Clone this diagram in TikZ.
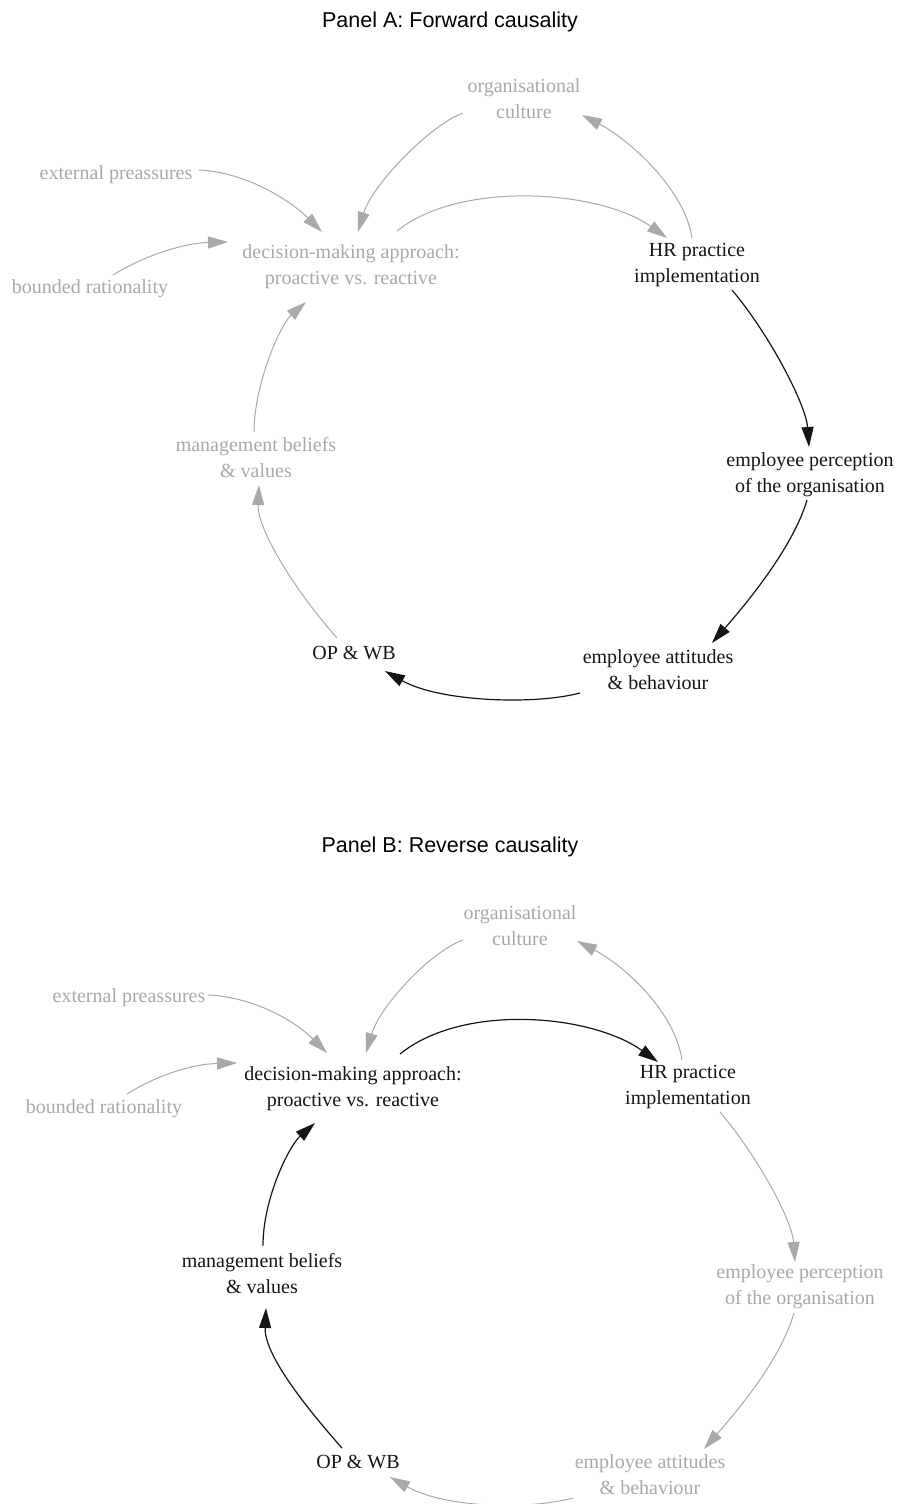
\documentclass[tikz,border=0pt]{standalone}
\usepackage{fontspec}
\setmainfont{Liberation Serif}
\newfontfamily\titlefont{Liberation Sans}
\usetikzlibrary{arrows.meta}
\definecolor{dim}{HTML}{A9A9A9}
\definecolor{ink}{HTML}{151515}

\begin{document}
\begin{tikzpicture}[x=1pt,y=-1pt,
  lbl/.style={align=center, inner sep=0pt, font=\fontsize{20}{26}\selectfont},
  on/.style={lbl, text=ink},
  off/.style={lbl, text=dim},
  ttl/.style={inner sep=0pt, font=\titlefont\fontsize{21.5}{26}\selectfont, text=black},
  tip/.style={-{Triangle[length=20pt,width=12pt]}},
  onedge/.style={draw=ink, line width=1.2pt, tip},
  offedge/.style={draw=dim, line width=1pt, tip},
]
\fill[white] (0,0) rectangle (901,1504);
\useasboundingbox (0,0) rectangle (901,1504);

% ---------- Panel A ----------
\node[ttl] (aTitle) at (450,22) {Panel A: Forward causality};
\node[off] (aOrg)  at (524,99)    {organisational\\culture};
\node[off] (aExt)  at (116,175)   {external preassures};
\node[off] (aDec)  at (351,266.5) {decision-making approach:\\proactive vs. reactive};
\node[off] (aBnd)  at (90,289)    {bounded rationality};
\node[on]  (aHR)   at (697,265)   {HR practice\\implementation};
\node[on]  (aPerc) at (810,475)   {employee perception\\of the organisation};
\node[off] (aMgmt) at (256,458)   {management beliefs\\\& values};
\node[on]  (aOP)   at (354,653)   {OP \& WB};
\node[on]  (aAtt)  at (658,669.5) {employee attitudes\\\& behaviour};

\draw[offedge] ([shift={(-61,14)}]aOrg.center) .. controls +(-33,12) and +(14,-47) .. ([shift={(7,-34.5)}]aDec.center);
\draw[offedge] ([shift={(-5,-27)}]aHR.center) .. controls +(-7,-48) and +(48,25) .. ([shift={(58,16)}]aOrg.center);
\draw[offedge] ([shift={(46,-35.5)}]aDec.center) .. controls +(63,-51) and +(-67,-48) .. ([shift={(-30,-27)}]aHR.center);
\draw[offedge] ([shift={(83,-5)}]aExt.center) .. controls +(46,2) and +(-32,-32) .. ([shift={(-29,-34.5)}]aDec.center);
\draw[offedge] ([shift={(23,-14)}]aBnd.center) .. controls +(32,-20) and +(-43,1) .. ([shift={(-123,-24.5)}]aDec.center);
\draw[offedge] ([shift={(-2,-26)}]aMgmt.center) .. controls +(0,-47) and +(-26,23) .. ([shift={(-45,35.5)}]aDec.center);
\draw[onedge]  ([shift={(35,25)}]aHR.center) .. controls +(38,45) and +(-3,-42) .. ([shift={(-1,-28)}]aPerc.center);
\draw[onedge]  ([shift={(-3,25)}]aPerc.center) .. controls +(-14,48) and +(33,-38) .. ([shift={(54,-26.5)}]aAtt.center);
\draw[onedge]  ([shift={(-78,23.5)}]aAtt.center) .. controls +(-45,12) and +(55,31) .. ([shift={(31,18)}]aOP.center);
\draw[offedge] ([shift={(-17,-15)}]aOP.center) .. controls +(-40,-45) and +(-2,45) .. ([shift={(3,27)}]aMgmt.center);

% ---------- Panel B ----------
\node[ttl] (bTitle) at (450,847) {Panel B: Reverse causality};
\node[off] (bOrg)  at (520,926)    {organisational\\culture};
\node[off] (bExt)  at (129,998)    {external preassures};
\node[on]  (bDec)  at (353,1088.5) {decision-making approach:\\proactive vs. reactive};
\node[off] (bBnd)  at (104,1109)   {bounded rationality};
\node[on]  (bHR)   at (688,1086.5) {HR practice\\implementation};
\node[off] (bPerc) at (800,1286.5) {employee perception\\of the organisation};
\node[on]  (bMgmt) at (262,1273.5) {management beliefs\\\& values};
\node[on]  (bOP)   at (358,1462)   {OP \& WB};
\node[off] (bAtt)  at (650,1474.5) {employee attitudes\\\& behaviour};

\draw[offedge] ([shift={(-57,14)}]bOrg.center) .. controls +(-33,12) and +(14,-47) .. ([shift={(13,-35.5)}]bDec.center);
\draw[offedge] ([shift={(-6,-26.5)}]bHR.center) .. controls +(-7,-48) and +(48,25) .. ([shift={(57,15)}]bOrg.center);
\draw[onedge]  ([shift={(47,-34.5)}]bDec.center) .. controls +(63,-51) and +(-67,-48) .. ([shift={(-30,-24.5)}]bHR.center);
\draw[offedge] ([shift={(79,-3)}]bExt.center) .. controls +(46,2) and +(-32,-32) .. ([shift={(-26,-35.5)}]bDec.center);
\draw[offedge] ([shift={(23,-15)}]bBnd.center) .. controls +(32,-20) and +(-43,1) .. ([shift={(-116,-25.5)}]bDec.center);
\draw[onedge]  ([shift={(1,-28)}]bMgmt.center) .. controls +(0,-47) and +(-26,23) .. ([shift={(-38,34.5)}]bDec.center);
\draw[offedge] ([shift={(32,25.5)}]bHR.center) .. controls +(38,45) and +(-3,-42) .. ([shift={(-5,-24.5)}]bPerc.center);
\draw[offedge] ([shift={(-6,26.5)}]bPerc.center) .. controls +(-14,48) and +(33,-38) .. ([shift={(54,-25.5)}]bAtt.center);
\draw[offedge] ([shift={(-77,23.5)}]bAtt.center) .. controls +(-45,12) and +(55,31) .. ([shift={(32,15)}]bOP.center);
\draw[onedge]  ([shift={(-16,-14)}]bOP.center) .. controls +(-40,-45) and +(-2,45) .. ([shift={(4,34.5)}]bMgmt.center);
\end{tikzpicture}
\end{document}
